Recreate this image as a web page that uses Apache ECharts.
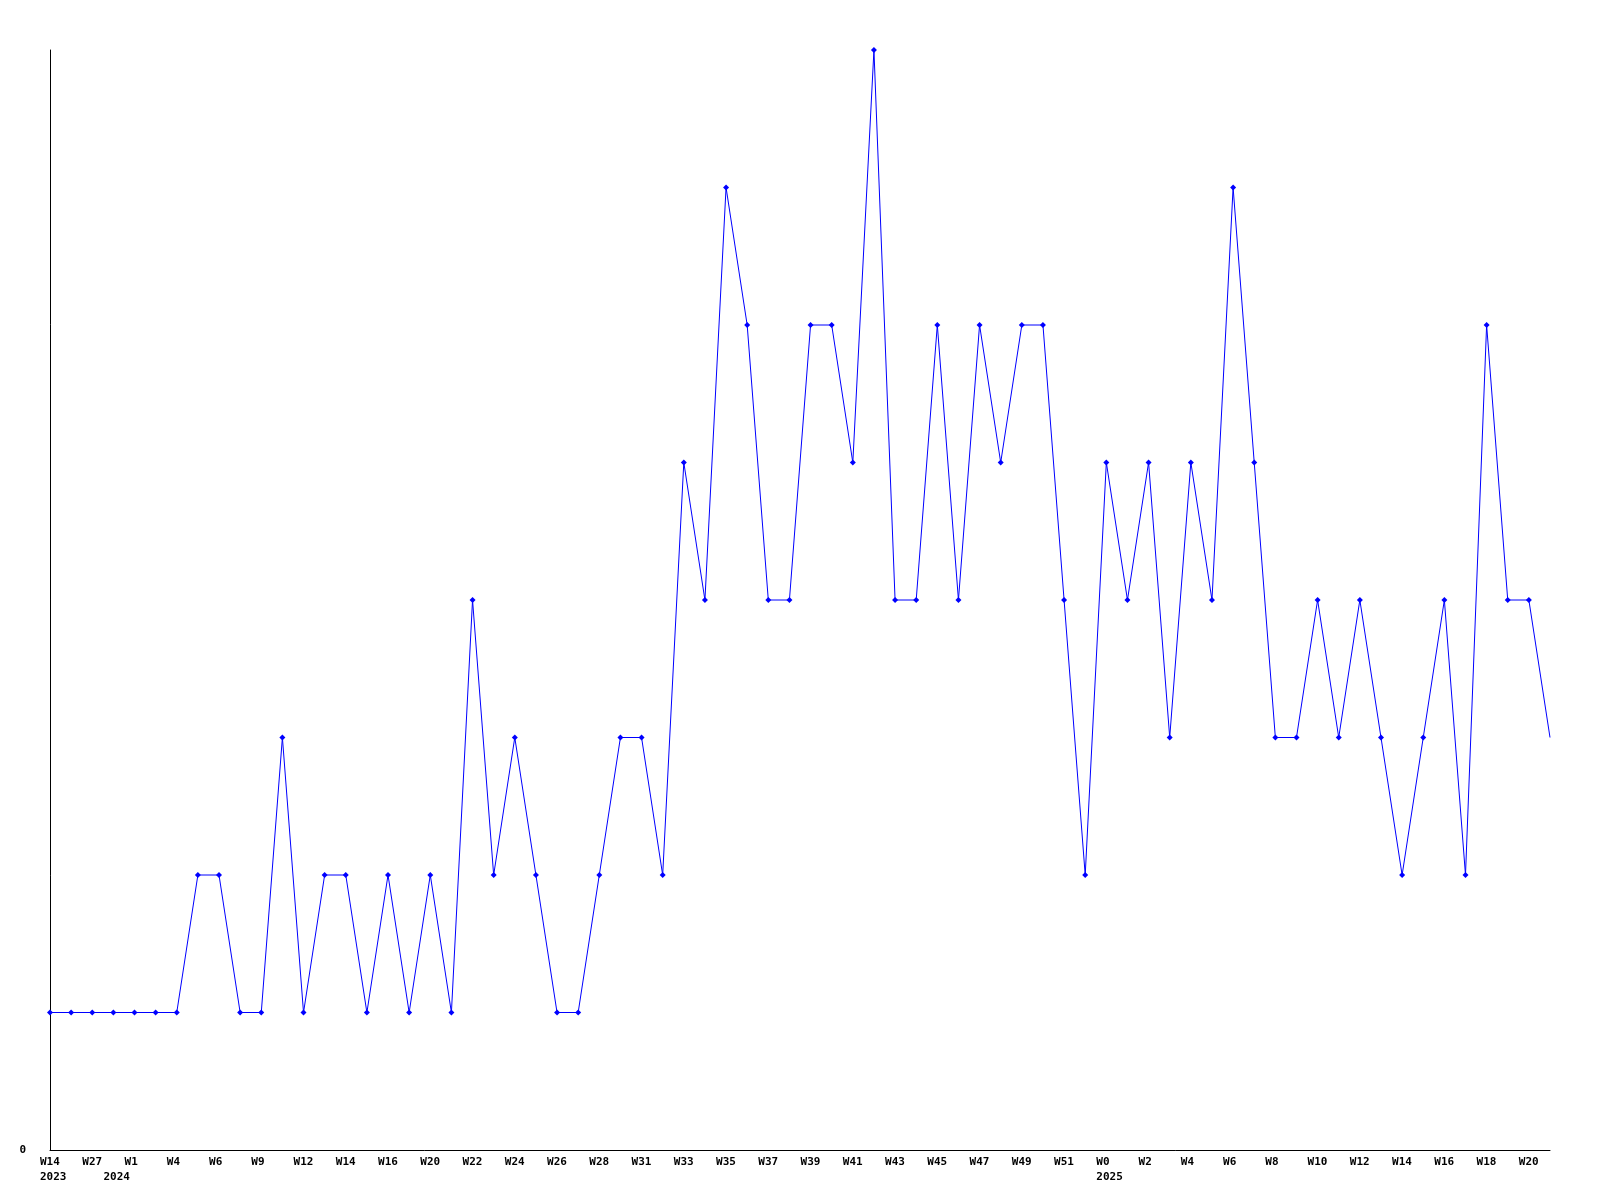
<!DOCTYPE html>
<html>
<head>
<meta charset="utf-8">
<script src="https://cdn.jsdelivr.net/npm/echarts@6/dist/echarts.min.js"></script>
<style>html,body{margin:0;padding:0;background:#fff}#c{width:1600px;height:1200px}</style>
</head>
<body>
<div id="c"></div>
<script>
// Tick labels shown under every other point
const weekLabels = ['W14','W27','W1','W4','W6','W9','W12','W14','W16','W20','W22','W24','W26','W28','W31','W33','W35','W37','W39','W41','W43','W45','W47','W49','W51','W0','W2','W4','W6','W8','W10','W12','W14','W16','W18','W20'];
// Year labels (second line), keyed by point index
const yearLabels = {0: '2023', 3: '2024', 50: '2025'};
// Series values (72 weekly points)
const values = [1,1,1,1,1,1,1,2,2,1,1,3,1,2,2,1,2,1,2,1,4,2,3,2,1,1,2,3,3,2,5,4,7,6,4,4,6,6,5,8,4,4,6,4,6,5,6,6,4,2,5,4,5,3,5,4,7,5,3,3,4,3,4,3,2,3,4,2,6,4,4,3];
const yMax = 8;

const categories = [];
for (let i = 0; i < values.length; i++) {
  const w = (i % 2 === 0) ? (weekLabels[i / 2] || '') : '';
  const y = yearLabels[i];
  categories.push(y ? w + '\n' + y : w);
}
const seriesData = values.map((v, i) => i === values.length - 1 ? {value: v, symbol: 'none'} : v);

const chart = echarts.init(document.getElementById('c'), null, {renderer: 'canvas'});
const labelFont = {fontFamily: 'DejaVu Sans Mono', fontWeight: 'bold', fontSize: 11, color: '#000'};
chart.setOption({
  animation: false,
  backgroundColor: '#fff',
  grid: {left: 50, right: 50, top: 50, bottom: 50, containLabel: false},
  xAxis: {
    type: 'category',
    data: categories,
    boundaryGap: false,
    axisLine: {lineStyle: {color: '#000', width: 1}},
    axisTick: {show: false},
    splitLine: {show: false},
    axisLabel: Object.assign({
      interval: 0,
      align: 'left',
      margin: 5,
      lineHeight: 15,
      padding: [0, 0, 0, -10]
    }, labelFont)
  },
  yAxis: {
    type: 'value',
    min: 0,
    max: yMax,
    interval: yMax,
    axisLine: {show: true, lineStyle: {color: '#000', width: 1}},
    axisTick: {show: false},
    splitLine: {show: false},
    axisLabel: Object.assign({
      margin: 24,
      formatter: v => (v === 0 ? '0' : '')
    }, labelFont)
  },
  series: [{
    type: 'line',
    data: seriesData,
    symbol: 'diamond',
    symbolSize: 6,
    showAllSymbol: true,
    lineStyle: {color: '#0000ff', width: 1},
    itemStyle: {color: '#0000ff'},
    clip: false
  }]
});
</script>
</body>
</html>
